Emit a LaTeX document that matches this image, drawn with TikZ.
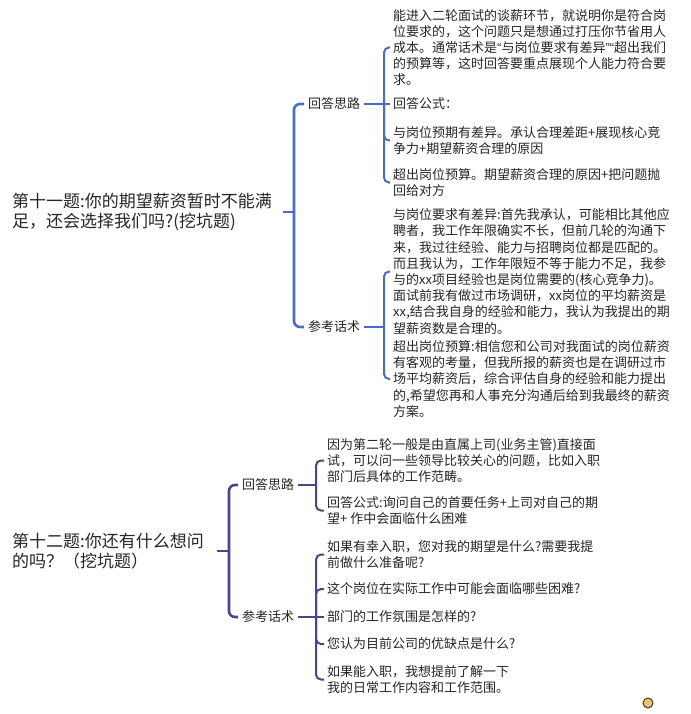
\documentclass[tikz,border=0pt]{standalone}
\usepackage{fontspec}
\setmainfont{Noto Sans CJK SC}
\newfontfamily\quotefont{Liberation Sans}
\usepackage{xcolor}
\usetikzlibrary{positioning}
\definecolor{blueline}{RGB}{74,108,196}
\definecolor{inkline}{RGB}{76,70,136}
\definecolor{txt}{RGB}{38,38,38}
\newcommand{\oq}{{\quotefont“}}
\newcommand{\cq}{{\quotefont”}}
\tikzset{
  topic/.style ={anchor=west,inner sep=0pt,align=left,text=txt,font=\fontsize{17}{19.5}\selectfont},
  sub/.style   ={anchor=west,inner xsep=4pt,inner ysep=2pt,text=txt,font=\fontsize{13}{16}\selectfont},
  leaf/.style  ={anchor=west,inner xsep=3pt,inner ysep=0pt,align=left,text=txt,font=\fontsize{13}{16.2}\selectfont},
  mainedgeA/.style={blueline,line width=2.6pt,rounded corners=6pt},
  subedgeA/.style ={blueline,line width=2pt,rounded corners=5pt},
  mainedgeB/.style={inkline,line width=2.6pt,rounded corners=6pt},
  subedgeB/.style ={inkline,line width=2pt,rounded corners=5pt},
  dot/.style   ={circle,draw={rgb,255:red,70;green,60;blue,35},fill={rgb,255:red,232;green,196;blue,112},
                 line width=1pt,minimum size=10pt,inner sep=0pt},
}

\begin{document}
\begin{tikzpicture}[x=1pt,y=-1pt]
  \fill[white] (0,0) rectangle (690,714);
  \useasboundingbox (0,0) rectangle (690,714);
  % question eleven
  \node[topic] (q11) at (12,212) {第十一题:你的期望薪资暂时不能满\\足，还会选择我们吗?(挖坑题)};
  \node[sub] (q11a) at (304,104) {回答思路};
  \node[sub] (q11b) at (304,327) {参考话术};
  \node[leaf] (q11a1) at (390,47.5) {能进入二轮面试的谈薪环节，就说明你是符合岗\\位要求的，这个问题只是想通过打压你节省用人\\成本。通常话术是\oq 与岗位要求有差异\cq\oq 超出我们\\的预算等，这时回答要重点展现个人能力符合要\\求。};
  \node[leaf] (q11a2) at (390,104) {回答公式：};
  \node[leaf] (q11a3) at (390,140.5) {与岗位预期有差异。承认合理差距+展现核心竞\\争力+期望薪资合理的原因};
  \node[leaf] (q11a4) at (390,182.5) {超出岗位预算。期望薪资合理的原因+把问题抛\\回给对方};
  \node[leaf] (q11b1) at (390,271.5) {与岗位要求有差异:首先我承认，可能相比其他应\\聘者，我工作年限确实不长，但前几轮的沟通下\\来，我过往经验、能力与招聘岗位都是匹配的。\\而且我认为，工作年限短不等于能力不足，我参\\与的xx项目经验也是岗位需要的(核心竞争力)。\\面试前我有做过市场调研，xx岗位的平均薪资是\\xx,结合我自身的经验和能力，我认为我提出的期\\望薪资数是合理的。};
  \node[leaf] (q11b2) at (390,379) {超出岗位预算:相信您和公司对我面试的岗位薪资\\有客观的考量，但我所报的薪资也是在调研过市\\场平均薪资后，综合评估自身的经验和能力提出\\的,希望您再和人事充分沟通后给到我最终的薪资\\方案。};
  \coordinate (j11) at (294,212);
  \coordinate (j11a) at (384,104);
  \coordinate (j11b) at (384,327);
  \draw[mainedgeA] ([xshift=11pt]q11.east) -- (j11);
  \foreach \n in {q11a,q11b} \draw[mainedgeA] (j11) |- (\n.west);
  \draw[subedgeA] (q11a.east) -- (j11a) -- (q11a2.west);
  \foreach \n in {q11a1,q11a3,q11a4} \draw[subedgeA] (j11a) |- (\n.west);
  \draw[subedgeA] (q11b.east) -- (j11b);
  \foreach \n in {q11b1,q11b2} \draw[subedgeA] (j11b) |- (\n.west);
  % question twelve
  \node[topic] (q12) at (12,551) {第十二题:你还有什么想问\\的吗？（挖坑题）};
  \node[sub] (q12a) at (238,485) {回答思路};
  \node[sub] (q12b) at (238,617) {参考话术};
  \node[leaf] (q12a1) at (324,460.5) {因为第二轮一般是由直属上司(业务主管)直接面\\试，可以问一些领导比较关心的问题，比如入职\\部门后具体的工作范畴。};
  \node[leaf] (q12a2) at (324,510.5) {回答公式:询问自己的首要任务+上司对自己的期\\望+ 作中会面临什么困难};
  \node[leaf] (q12b1) at (324,554.5) {如果有幸入职，您对我的期望是什么?需要我提\\前做什么准备呢?};
  \node[leaf] (q12b2) at (324,589) {这个岗位在实际工作中可能会面临哪些困难?};
  \node[leaf] (q12b3) at (324,617) {部门的工作氛围是怎样的?};
  \node[leaf] (q12b4) at (324,644) {您认为目前公司的优缺点是什么?};
  \node[leaf] (q12b5) at (324,679.5) {如果能入职，我想提前了解一下\\我的日常工作内容和工作范围。};
  \coordinate (j12) at (229,551);
  \coordinate (j12a) at (316,485);
  \coordinate (j12b) at (316,617);
  \draw[mainedgeB] ([xshift=13pt]q12.east) -- (j12);
  \foreach \n in {q12a,q12b} \draw[mainedgeB] (j12) |- (\n.west);
  \draw[subedgeB] (q12a.east) -- (j12a);
  \foreach \n in {q12a1,q12a2} \draw[subedgeB] (j12a) |- (\n.west);
  \draw[subedgeB] (q12b.east) -- (j12b) -- (q12b3.west);
  \foreach \n in {q12b1,q12b2,q12b4,q12b5} \draw[subedgeB] (j12b) |- (\n.west);
  \node[dot] (mark) at (648,703) {};
\end{tikzpicture}
\end{document}
